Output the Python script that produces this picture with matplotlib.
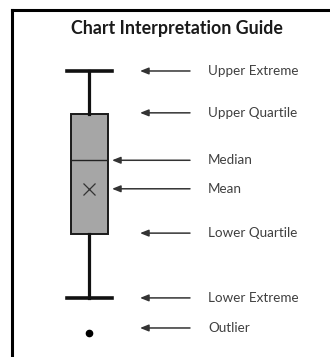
import matplotlib
matplotlib.use('Agg')
import matplotlib.pyplot as plt
from matplotlib.lines import Line2D

# box plot statistics (arbitrary units)
whis_hi = 9.0
q3 = 7.62
median = 6.12
mean = 5.2
q1 = 3.74
whis_lo = 1.68
outliers = [0.55]

labels = ['Upper Extreme', 'Upper Quartile', 'Median', 'Mean',
          'Lower Quartile', 'Lower Extreme', 'Outlier']
label_vals = [whis_hi, q3 + 0.03, median, mean, q1 + 0.03, whis_lo, 0.71]

fig = plt.figure(figsize=(3.30, 3.57), dpi=100)
ax = fig.add_axes([0, 0, 1, 1])
ax.set_xlim(0, 330)
ax.set_ylim(-0.226, 11.29)
ax.axis('off')

stats = [dict(med=median, q1=q1, q3=q3, whislo=whis_lo, whishi=whis_hi,
              mean=mean, fliers=outliers)]
ax.bxp(stats, positions=[89], widths=37, capwidths=45, showmeans=True,
       patch_artist=True, manage_ticks=False,
       boxprops=dict(facecolor='#a6a6a6', edgecolor='#1a1a1a', linewidth=1.4),
       whiskerprops=dict(color='#111111', linewidth=2.3),
       capprops=dict(color='#111111', linewidth=2.6),
       medianprops=dict(color='#222222', linewidth=1.0),
       meanprops=dict(marker='x', markersize=9, markeredgecolor='#333333',
                      markeredgewidth=0.9),
       flierprops=dict(marker='o', markersize=4.5, markerfacecolor='black',
                       markeredgecolor='black'))

for lab, v in zip(labels, label_vals):
    tip = 112 if lab in ('Median', 'Mean') else 140
    ax.annotate('', xy=(tip, v), xytext=(190, v),
                arrowprops=dict(arrowstyle='-|>,head_length=0.5,head_width=0.2',
                                color='#333333', lw=1.1, shrinkA=0, shrinkB=0))
    ax.text(208, v, lab, fontsize=9.7, family='Lato', color='#404040',
            va='center', ha='left')

ax.text(177, 11.29 - 28 / 31, 'Chart Interpretation Guide', fontsize=12.8,
        family='Lato', fontweight='bold', color='#1a1a1a',
        ha='center', va='center')

# outer frame (top and left edges only visible)
fig.add_artist(Line2D([12 / 330, 1], [1 - 10 / 357, 1 - 10 / 357],
                      transform=fig.transFigure, color='black', lw=2.2))
fig.add_artist(Line2D([12 / 330, 12 / 330], [0, 1 - 10 / 357],
                      transform=fig.transFigure, color='black', lw=2.2))

fig.savefig('out.png', dpi=100, facecolor='white')
